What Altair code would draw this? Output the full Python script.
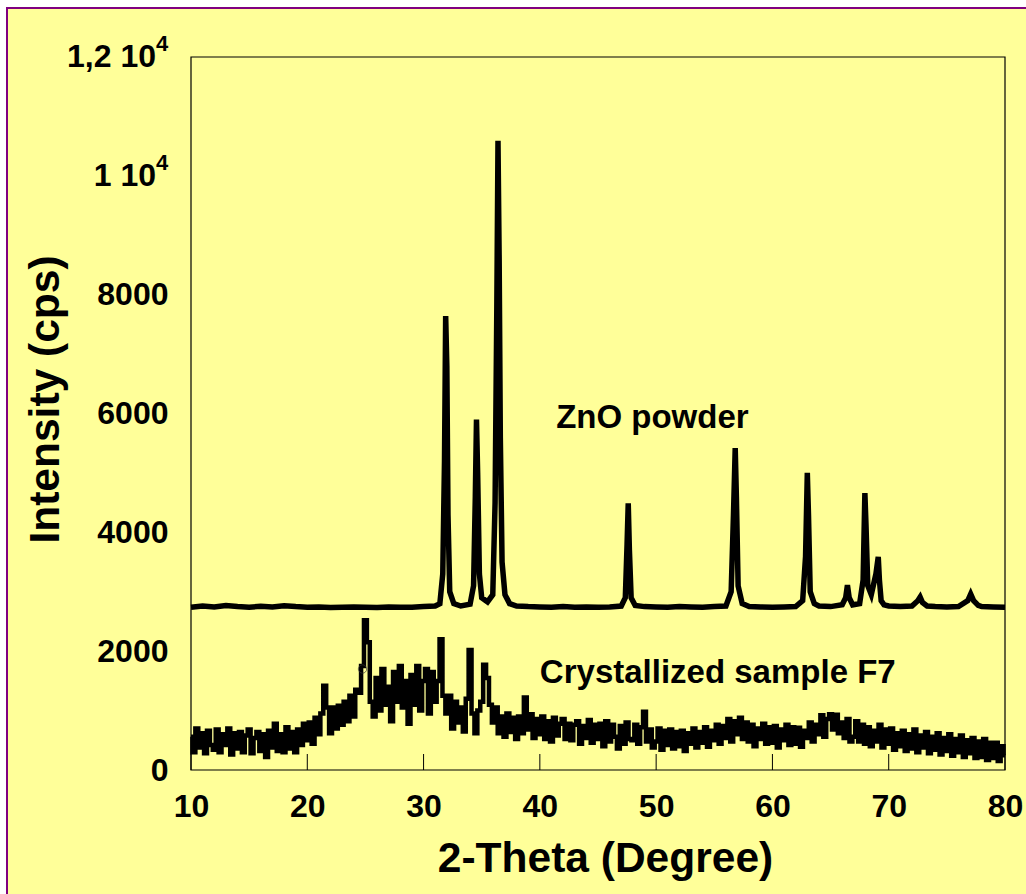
import altair as alt
import pandas as pd

# ---------------- data ----------------
x_ticks = [10, 20, 30, 40, 50, 60, 70, 80]
y_ticks = [0, 2000, 4000, 6000, 8000, 10000, 12000]
y_tick_labels = ["0", "2000", "4000", "6000", "8000", "", ""]
# the two top labels are written as mantissa + "10" with a raised exponent
sci_values = [10000, 12000]
sci_labels = ["1 10", "1,2 10"]
sci_exponent = ["4", "4"]

# ZnO powder pattern
zno_x = [10, 11, 12, 13, 14, 15, 16, 17, 18, 19, 20, 21, 22, 23, 24, 25, 26, 27, 28, 29, 30, 31,
         31.4, 31.65, 31.8, 31.9, 32.0, 32.1, 32.25, 32.6,
         33.2, 34.0, 34.3, 34.45, 34.55, 34.65, 34.8, 35.0, 35.5,
         35.95, 36.15, 36.3, 36.4, 36.5, 36.6, 36.75, 37.0, 37.4,
         38, 39, 40, 41, 42, 43, 44, 45, 46, 47,
         47.35, 47.5, 47.6, 47.7, 47.85, 48.2,
         49, 50, 51, 52, 53, 54, 55, 56,
         56.45, 56.65, 56.8, 56.9, 57.05, 57.4,
         58, 59, 60, 61, 62,
         62.6, 62.85, 63.0, 63.1, 63.25, 63.6,
         64, 65, 66.0, 66.3, 66.45, 66.6, 66.9,
         67.5, 67.8, 67.95, 68.05, 68.2, 68.5, 68.9, 69.1, 69.2, 69.35, 69.6,
         70, 71, 72, 72.5, 72.7, 72.9, 73.3,
         74, 75, 76, 76.8, 77.05, 77.3, 77.7, 78, 79, 80]
zno_y = [2740, 2760, 2745, 2770, 2750, 2740, 2755, 2745, 2765, 2750, 2740, 2745, 2735, 2740, 2745, 2740, 2735, 2745, 2740, 2740, 2750, 2760,
         2800, 3300, 5200, 7640, 6800, 4300, 3000, 2800,
         2760, 2790, 3100, 4600, 5900, 5000, 3300, 2900, 2830,
         2950, 4500, 7800, 10590, 8600, 5600, 3500, 2950, 2800,
         2760, 2750, 2745, 2740, 2750, 2740, 2745, 2740, 2745, 2760,
         2900, 3800, 4490, 3700, 2900, 2770,
         2750, 2745, 2740, 2750, 2745, 2740, 2750, 2760,
         3000, 4300, 5420, 4600, 3100, 2800,
         2750, 2745, 2740, 2745, 2750,
         2850, 3600, 5000, 4300, 3000, 2800,
         2760, 2750, 2780, 2900, 3110, 2900, 2780,
         2800, 3200, 4660, 4100, 3100, 2950, 3300, 3585, 3200, 2850, 2780,
         2760, 2750, 2760, 2850, 2910, 2820, 2760,
         2750, 2745, 2750, 2850, 2960, 2850, 2770, 2750, 2745, 2740]

# Crystallized sample F7 pattern, one value every 0.25 degree from 10 to 80
f7_y = [
    560, 300, 700, 380,   620, 280, 660, 420,   340, 680, 300, 600,   420, 700, 260, 620,
    360, 640, 300, 580,   680, 280, 540, 640,   320, 600, 220, 660,   380, 780, 320, 600,
    300, 720, 360, 640,   300, 680, 420, 780,   500, 800, 440, 880,   600, 950, 1420, 1050,
    620, 1050, 700, 1080, 760, 1150, 820, 1250, 900, 1350, 1300, 1750, 2520, 2150, 1150, 900,
    1550, 1000, 1700, 1100, 1400, 820, 1650, 1150, 1750, 1050, 1500, 780, 1600, 1100, 1750, 1000,
    1500, 1700, 950, 1650, 1150, 1500, 2200, 1250, 950, 1250, 700, 1150, 800, 1050, 650, 1200,
    2020, 950, 620, 1000,  1150, 1770, 1550, 1100, 800, 1050, 620, 900,  560, 950, 640, 880,
    520, 900, 620, 1220,  680, 940, 540, 860,   600, 900, 520, 820,   480, 880, 580, 780,
    860, 520, 780, 500,   760, 820, 440, 740,   540, 840, 460, 760,   520, 780, 400, 820,
    480, 760, 560, 360,   740, 440, 800, 520,   500, 760, 440, 720,   980, 480, 680, 380,
    480, 700, 340, 660,   420, 680, 360, 640,   400, 660, 320, 620,   440, 700, 380, 640,
    460, 720, 390, 660,   500, 760, 440, 740,   540, 860, 480, 820,   600, 880, 520, 800,
    480, 760, 400, 700,   520, 780, 440, 720,   460, 740, 380, 680,   500, 760, 420, 720,
    440, 710, 390, 660,   540, 800, 480, 760,   600, 920, 560, 860,   940, 680, 930, 620,
    800, 540, 860, 480,   560, 820, 480, 760,   440, 720, 400, 660,   480, 760, 380, 680,
    440, 700, 340, 620,   400, 660, 320, 600,   360, 680, 300, 580,   380, 640, 280, 560,
    340, 620, 260, 540,   320, 600, 240, 520,   300, 580, 220, 500,   280, 540, 200, 480,
    220, 520, 170, 460,   200, 460, 150, 400,   250,
]
f7_x = [10 + 0.25 * i for i in range(len(f7_y))]

# stray open-circle marker seen in the reference
marker_x = [24.75]
marker_y = [1700]

label_zno = "ZnO powder"
label_f7 = "Crystallized sample F7"

# ---------------- chart ----------------
FONT = "Liberation Sans"
W, H = 814, 713
LBL = 32

zno = pd.DataFrame({"theta": zno_x, "intensity": zno_y})
f7 = pd.DataFrame({"theta": f7_x, "intensity": f7_y})
marker = pd.DataFrame({"theta": marker_x, "intensity": marker_y})
ticks = pd.DataFrame({"theta": x_ticks})
sci = pd.DataFrame({"intensity": sci_values, "label": sci_labels, "exp": sci_exponent})
texts = pd.DataFrame({"theta": [41.4, 40.0], "intensity": [5924, 1632], "label": [label_zno, label_f7]})

xscale = alt.Scale(domain=[10, 80], nice=False, zero=False)
yscale = alt.Scale(domain=[0, 12000], nice=False)

label_map = "{" + ",".join(f"'{v}':'{l}'" for v, l in zip(y_ticks, y_tick_labels)) + "}"

x_axis = alt.Axis(
    values=x_ticks, format="d", title="2-Theta (Degree)", grid=False, domain=False,
    tickSize=0, labelPadding=21, labelFont=FONT, labelFontSize=LBL, labelFontWeight="bold",
    labelColor="black", labelFlush=False, zindex=2,
    titleFont=FONT, titleFontSize=42.5, titleFontWeight="bold", titleColor="black",
    titleX=414, titleY=88, titleBaseline="middle", titleAlign="center",
)
y_axis = alt.Axis(
    values=y_ticks, title="Intensity (cps)", grid=False, domain=False, tickSize=0,
    labelPadding=23, labelExpr=f"{label_map}[datum.value + '']",
    labelFont=FONT, labelFontSize=LBL, labelFontWeight="bold", labelColor="black",
    labelFlush=False, zindex=2,
    titleFont=FONT, titleFontSize=42.5, titleFontWeight="bold", titleColor="black",
    titleX=-146, titleY=342, titleAngle=270, titleBaseline="middle", titleAlign="center",
)

one = pd.DataFrame({"a": [0]})
bg = alt.Chart(one).mark_rect(
    fill="#FFFF99", stroke="#800080", strokeWidth=2
).encode(x=alt.value(-184), x2=alt.value(845), y=alt.value(-49), y2=alt.value(845))

frame = alt.Chart(one).mark_rect(
    fill=None, fillOpacity=0, stroke="black", strokeWidth=1.2
).encode(x=alt.value(0), x2=alt.value(W), y=alt.value(0), y2=alt.value(H))

zno_line = alt.Chart(zno).mark_line(color="black", strokeWidth=5.5).encode(
    x=alt.X("theta:Q", scale=xscale, axis=x_axis),
    y=alt.Y("intensity:Q", scale=yscale, axis=y_axis),
)
f7_line = alt.Chart(f7).mark_line(color="black", strokeWidth=4.5, interpolate="step").encode(
    x=alt.X("theta:Q", scale=xscale),
    y=alt.Y("intensity:Q", scale=yscale),
)
tick_rules = alt.Chart(ticks).mark_rule(color="black", strokeWidth=1).encode(
    x=alt.X("theta:Q", scale=xscale), y=alt.value(H), y2=alt.value(H - 16)
)
circ = alt.Chart(marker).mark_point(shape="circle", filled=False, size=70, color="#333333", strokeWidth=1).encode(
    x=alt.X("theta:Q", scale=xscale), y=alt.Y("intensity:Q", scale=yscale)
)
txt = alt.Chart(texts).mark_text(
    font=FONT, fontSize=33, fontWeight="bold", color="black", align="left", baseline="middle"
).encode(
    x=alt.X("theta:Q", scale=xscale), y=alt.Y("intensity:Q", scale=yscale), text="label:N"
)
sci_main = alt.Chart(sci).mark_text(
    font=FONT, fontSize=LBL, fontWeight="bold", color="black", align="right", baseline="middle"
).encode(x=alt.value(-35), y=alt.Y("intensity:Q", scale=yscale), text="label:N")
sci_exp = alt.Chart(sci).mark_text(
    font=FONT, fontSize=22, fontWeight="bold", color="black", align="left", baseline="middle", dy=-13
).encode(x=alt.value(-35), y=alt.Y("intensity:Q", scale=yscale), text="exp:N")

chart = alt.layer(bg, zno_line, f7_line, tick_rules, circ, txt, sci_main, sci_exp, frame).properties(
    width=W, height=H,
    autosize=alt.AutoSizeParams(type="none"),
    padding={"left": 191, "top": 57, "right": 21, "bottom": 124},
    background="white",
).configure_view(stroke=None)

chart.save("out.html", embed_options={"renderer": "svg", "actions": False})
